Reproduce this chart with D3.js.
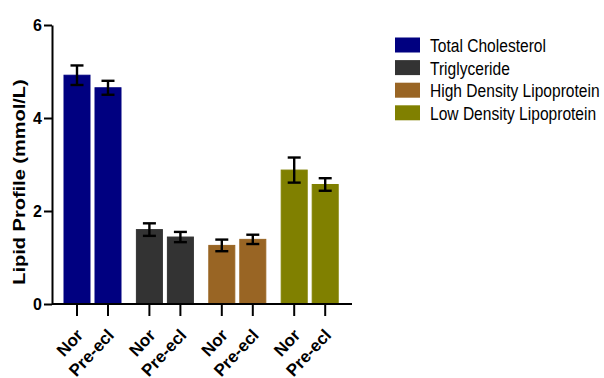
<!DOCTYPE html>
<html>
<head>
<meta charset="utf-8">
<script src="https://cdn.jsdelivr.net/npm/d3@7"></script>
<style>
  html, body { margin: 0; padding: 0; background: #fff; }
  svg { display: block; }
  text { font-family: "Liberation Sans", Arial, sans-serif; }
</style>
</head>
<body>
<svg id="chart" width="604" height="378"></svg>
<script>
// ---- data ----
const groups = ["Total Cholesterol", "Triglyceride", "High Density Lipoprotein", "Low Density Lipoprotein"];
const conditions = ["Nor", "Pre-ecl"];
const norMeans = [4.92, 1.60, 1.26, 2.88];
const preMeans = [4.65, 1.44, 1.39, 2.57];
const norErr = [0.21, 0.135, 0.125, 0.27];
const preErr = [0.15, 0.11, 0.10, 0.135];
const groupColors = ["#000080", "#333333", "#996524", "#808000"];
const yTicks = [0, 2, 4, 6];
const yTitle = "Lipid Profile (mmol/L)";

const rows = [];
groups.forEach((g, i) => {
  rows.push({ group: g, cond: conditions[0], mean: norMeans[i], err: norErr[i], color: groupColors[i] });
  rows.push({ group: g, cond: conditions[1], mean: preMeans[i], err: preErr[i], color: groupColors[i] });
});

const svg = d3.select("#chart");
const y = d3.scaleLinear().domain([0, 6]).range([304, 25]);
const xg = d3.scaleBand().domain(groups).range([56, 345.6]).paddingInner(0).paddingOuter(0);
const xc = d3.scaleBand().domain(conditions).range([8, 65]).paddingInner(5 / 31).paddingOuter(0);
const cx = d => xg(d.group) + xc(d.cond) + xc.bandwidth() / 2;

// bars
svg.append("g").selectAll("rect").data(rows).join("rect")
  .attr("x", d => xg(d.group) + xc(d.cond))
  .attr("y", d => y(d.mean))
  .attr("width", xc.bandwidth())
  .attr("height", d => y(0) - y(d.mean))
  .attr("fill", d => d.color)
  .attr("stroke", d => d.color)
  .attr("stroke-width", 1);

// error bars
const eb = svg.append("g").attr("stroke", "#000").attr("stroke-width", 2.4).attr("fill", "none");
eb.selectAll("line.v").data(rows).join("line").attr("class", "v")
  .attr("x1", cx).attr("x2", cx)
  .attr("y1", d => y(d.mean + d.err)).attr("y2", d => y(d.mean - d.err));
eb.selectAll("line.t").data(rows).join("line").attr("class", "t")
  .attr("x1", d => cx(d) - 6.5).attr("x2", d => cx(d) + 6.5)
  .attr("y1", d => y(d.mean + d.err)).attr("y2", d => y(d.mean + d.err));
eb.selectAll("line.b").data(rows).join("line").attr("class", "b")
  .attr("x1", d => cx(d) - 6.5).attr("x2", d => cx(d) + 6.5)
  .attr("y1", d => y(d.mean - d.err)).attr("y2", d => y(d.mean - d.err));

// y axis
const yAxis = svg.append("g").attr("transform", "translate(52,0)")
  .call(d3.axisLeft(y).tickValues(yTicks).tickFormat(d3.format("d")).tickSize(8).tickPadding(2).tickSizeOuter(0));
yAxis.select(".domain").attr("stroke", "#000").attr("stroke-width", 2);
yAxis.selectAll(".tick line").attr("stroke", "#000").attr("stroke-width", 2);
yAxis.selectAll(".tick text").attr("font-size", 16).attr("font-weight", "bold")
  .attr("font-family", "'Liberation Sans', Arial, sans-serif").attr("fill", "#000");

// x axis
const xAxisG = svg.append("g");
xAxisG.append("line").attr("x1", 52).attr("x2", 352).attr("y1", y(0)).attr("y2", y(0))
  .attr("stroke", "#000").attr("stroke-width", 2);
xAxisG.selectAll("line.tk").data(rows).join("line").attr("class", "tk")
  .attr("x1", cx).attr("x2", cx).attr("y1", y(0)).attr("y2", y(0) + 12)
  .attr("stroke", "#000").attr("stroke-width", 2);
xAxisG.selectAll("text").data(rows).join("text")
  .attr("transform", d => `translate(${cx(d) + 7},336) rotate(-47)`)
  .attr("text-anchor", "end")
  .attr("font-size", 17).attr("font-weight", "bold").attr("fill", "#000")
  .text(d => d.cond);

// y title
svg.append("text")
  .attr("transform", "translate(25,182) scale(0.85,1) rotate(-90)")
  .attr("text-anchor", "middle")
  .attr("font-size", 20).attr("font-weight", "bold").attr("fill", "#000")
  .text(yTitle);

// legend
const lg = svg.append("g").selectAll("g").data(groups).join("g")
  .attr("transform", (d, i) => `translate(395,${45 + i * 22.6})`);
lg.append("rect").attr("x", 0).attr("y", -7.5).attr("width", 25).attr("height", 15)
  .attr("fill", (d, i) => groupColors[i]);
lg.append("text").attr("transform", "translate(35,7) scale(0.82,1)")
  .attr("font-size", 19).attr("fill", "#000")
  .text(d => d);
</script>
</body>
</html>
